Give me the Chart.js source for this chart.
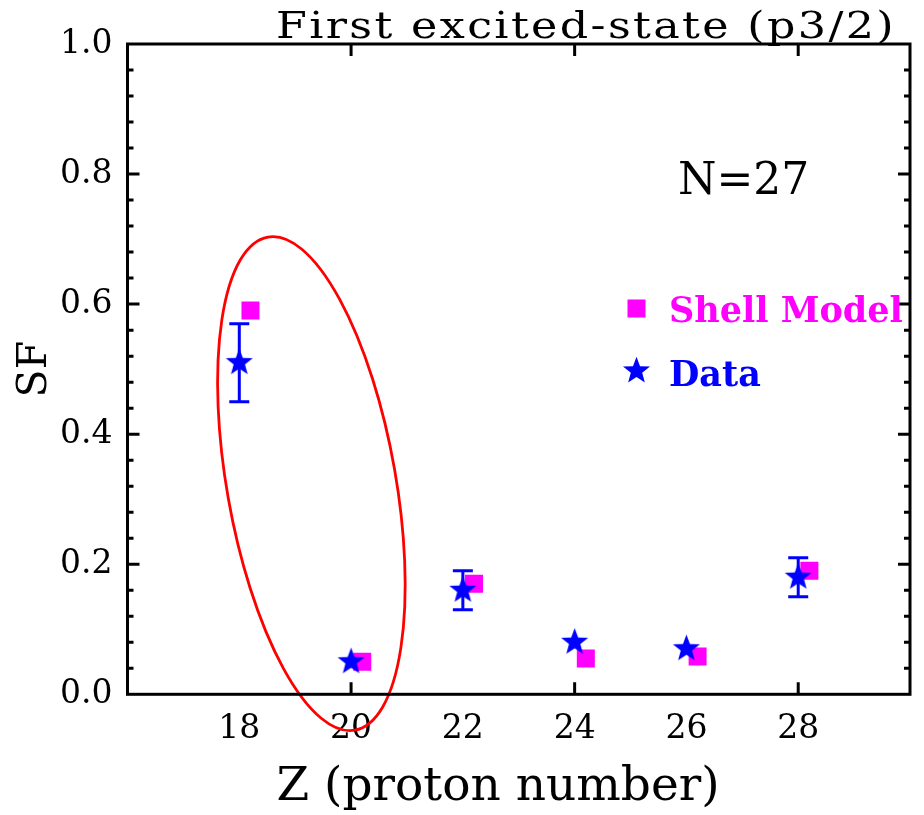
<!DOCTYPE html>
<html>
<head>
<meta charset="utf-8">
<script src="https://cdn.jsdelivr.net/npm/chart.js@4.4.1/dist/chart.umd.min.js"></script>
<style>
html,body{margin:0;padding:0;background:#fff;}
canvas{display:block;}
</style>
</head>
<body>
<canvas id="sfChart" width="924" height="815"></canvas>
<script>
/* ===== data ===== */
const Z_DATA=[18,20,22,24,26,28];
const SF_DATA=[0.51,0.05,0.16,0.08,0.07,0.18];
const SF_ERR=[0.06,0,0.03,0,0,0.03];
const Z_SM=[18.2,20.2,22.2,24.2,26.2,28.2];
const SF_SM=[0.59,0.05,0.17,0.055,0.058,0.19];
const X_LABELS=[18,20,22,24,26,28];
const X_MAJOR=[20,24,28];
const Y_LABELS=[0,0.2,0.4,0.6,0.8,1.0];
const Y_MINOR=0.04;
const RING={z:19.29,sf:0.324,rz:1.51,rsf:0.385,rot:-10};   // ring round Ar / Ca, in axis units

const TITLE='First excited-state (p3/2)';
const NOTE='N=27';
const XTITLE='Z (proton number)';
const SERIF='"DejaVu Serif", serif';
const BLUE='#0000ff', MAG='#ff00ff';

/* ---------- star symbol ---------- */
function starImg(R,col){
  const s=Math.ceil(R*2+4), c=document.createElement('canvas'); c.width=c.height=s;
  const g=c.getContext('2d'); g.translate(s/2,s/2); starPath(g,R); g.fillStyle=col; g.fill();
  return c;
}
function starPath(g,R){
  const r=R*0.42; g.beginPath();
  for(let i=0;i<10;i++){
    const a=-Math.PI/2+i*Math.PI/5, rr=i%2?r:R;
    i?g.lineTo(rr*Math.cos(a),rr*Math.sin(a)):g.moveTo(rr*Math.cos(a),rr*Math.sin(a));
  }
  g.closePath();
}
const STAR=starImg(14.2,BLUE);

/* ---------- plugins ---------- */
const errBars={id:'errBars',beforeDatasetsDraw(c){
  const {ctx,scales:{x,y}}=c;
  ctx.save(); ctx.strokeStyle=BLUE; ctx.lineWidth=3; ctx.beginPath();
  Z_DATA.forEach((z,i)=>{
    const e=SF_ERR[i]; if(!e) return;
    const px=x.getPixelForValue(z), hi=y.getPixelForValue(SF_DATA[i]+e), lo=y.getPixelForValue(SF_DATA[i]-e);
    ctx.moveTo(px,hi); ctx.lineTo(px,lo);
    ctx.moveTo(px-10,hi); ctx.lineTo(px+10,hi);
    ctx.moveTo(px-10,lo); ctx.lineTo(px+10,lo);
  });
  ctx.stroke(); ctx.restore();
}};

const ring={id:'ring',afterDatasetsDraw(c){
  const {ctx,scales:{x,y}}=c;
  const cx=x.getPixelForValue(RING.z), cy=y.getPixelForValue(RING.sf);
  const rx=Math.abs(x.getPixelForValue(RING.z+RING.rz)-cx), ry=Math.abs(y.getPixelForValue(RING.sf+RING.rsf)-cy);
  ctx.save(); ctx.strokeStyle='#ff0000'; ctx.lineWidth=2.8;
  ctx.beginPath(); ctx.ellipse(cx,cy,rx,ry,RING.rot*Math.PI/180,0,Math.PI*2); ctx.stroke();
  ctx.restore();
}};

// box with inward ticks on all four sides
const frame={id:'frame',afterDraw(c){
  const {ctx,chartArea:{left,right,top,bottom},scales:{x,y}}=c;
  ctx.save(); ctx.strokeStyle='#000'; ctx.lineWidth=3;
  ctx.beginPath();
  X_MAJOR.forEach(v=>{const p=x.getPixelForValue(v);
    ctx.moveTo(p,bottom); ctx.lineTo(p,bottom-12); ctx.moveTo(p,top); ctx.lineTo(p,top+12);});
  const n=Math.round((y.max-y.min)/Y_MINOR);
  for(let i=1;i<n;i++){
    const p=y.getPixelForValue(y.min+i*Y_MINOR), L=i%5?6:12;
    ctx.moveTo(left,p); ctx.lineTo(left+L,p); ctx.moveTo(right,p); ctx.lineTo(right-L,p);
  }
  ctx.stroke();
  ctx.strokeRect(left,top,right-left,bottom-top);
  ctx.restore();
}};

const texts={id:'texts',afterDraw(c){
  const {ctx}=c;
  ctx.save(); ctx.textBaseline='alphabetic'; ctx.textAlign='left'; ctx.fillStyle='#000';
  // title, stretched across its box
  ctx.font='38px '+SERIF; ctx.letterSpacing='2px';
  const sx=620/ctx.measureText(TITLE).width;
  ctx.save(); ctx.translate(276,38); ctx.scale(sx,1); ctx.fillText(TITLE,0,0); ctx.restore();
  ctx.letterSpacing='0px';
  ctx.font='44px '+SERIF; ctx.fillText(NOTE,678,194);
  ctx.textAlign='center'; ctx.font='47px '+SERIF; ctx.fillText(XTITLE,498,800);
  // legend
  ctx.textAlign='left'; ctx.font='bold 35px '+SERIF;
  ctx.fillStyle=MAG; ctx.fillRect(636.5-9,308.5-9,18,18); ctx.fillText('Shell Model',669,322);
  ctx.save(); ctx.translate(636.5,371); starPath(ctx,14.2); ctx.fillStyle=BLUE; ctx.fill(); ctx.restore();
  ctx.fillStyle=BLUE; ctx.fillText('Data',669,386);
  ctx.restore();
}};

/* ---------- chart ---------- */
new Chart(document.getElementById('sfChart'),{
  type:'scatter',
  data:{datasets:[
    {label:'Data',data:Z_DATA.map((z,i)=>({x:z,y:SF_DATA[i]})),order:0,
     pointStyle:STAR,pointRadius:14,backgroundColor:BLUE,borderWidth:0},
    {label:'Shell Model',data:Z_SM.map((z,i)=>({x:z,y:SF_SM[i]})),order:1,
     pointStyle:'rect',pointRadius:12.73,backgroundColor:MAG,borderColor:MAG,borderWidth:0}
  ]},
  options:{
    responsive:false,animation:false,events:[],devicePixelRatio:1,
    layout:{padding:{top:44,right:6,bottom:0,left:0}},
    plugins:{legend:{display:false},tooltip:{enabled:false}},
    scales:{
      x:{type:'linear',min:16,max:30,
         afterBuildTicks:s=>{s.ticks=X_LABELS.map(v=>({value:v}));},
         afterFit:s=>{s.height=120.7;},
         ticks:{font:{family:SERIF,size:33},color:'#000',padding:15,maxRotation:0,autoSkip:false},
         grid:{display:false,drawTicks:false},border:{display:false}},
      y:{min:0,max:1,
         afterBuildTicks:s=>{s.ticks=Y_LABELS.map(v=>({value:v}));},
         afterFit:s=>{s.width=127.5;},
         ticks:{font:{family:SERIF,size:33},color:'#000',padding:15,callback:v=>v.toFixed(1)},
         grid:{display:false,drawTicks:false},border:{display:false},
         title:{display:true,text:'SF',color:'#000',font:{family:SERIF,size:41,lineHeight:1},padding:{top:14.5}}}
    }
  },
  plugins:[errBars,ring,frame,texts]
});
</script>
</body>
</html>
